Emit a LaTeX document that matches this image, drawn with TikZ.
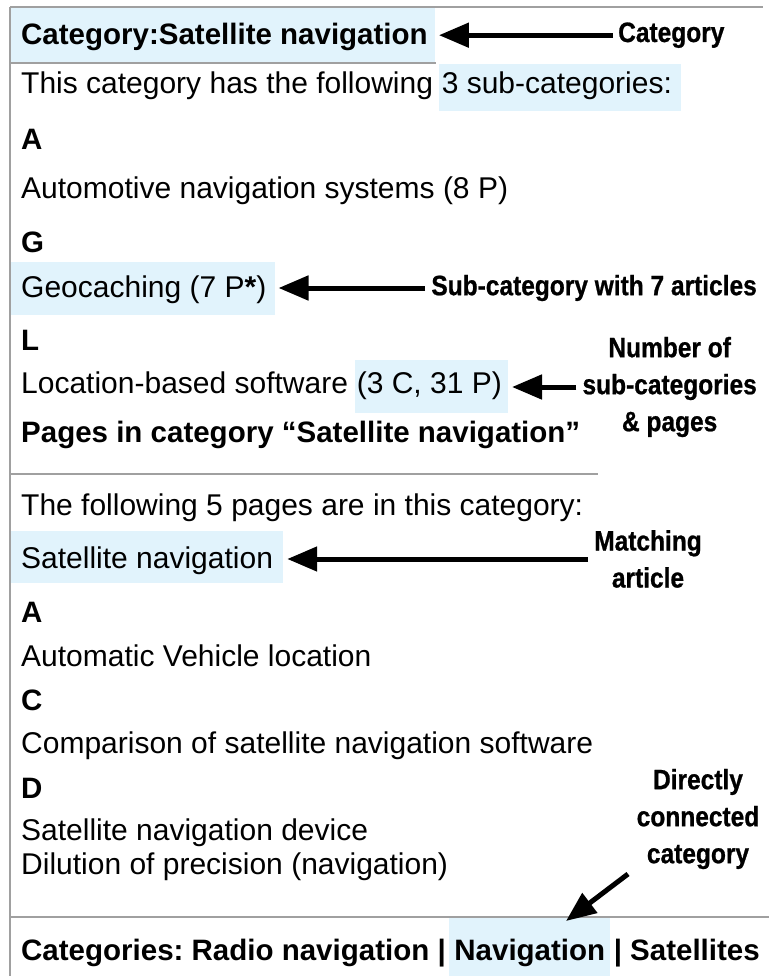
\documentclass[tikz,border=0pt]{standalone}
\usepackage{fontspec}
\setmainfont{Liberation Sans}
\newfontfamily\lblfont[FakeStretch=0.875,FakeBold=0.8]{Liberation Sans}
\usetikzlibrary{arrows.meta,backgrounds}
\definecolor{hl}{RGB}{225,243,252}
\definecolor{rulegray}{RGB}{160,160,160}
\frenchspacing
\begin{document}
\begin{tikzpicture}[x=1pt,y=-1pt,
  body/.style={font=\fontsize{30}{36}\selectfont, inner sep=0pt, anchor=base west},
  head/.style={body, font=\fontsize{29.5}{36}\selectfont\bfseries},
  lbl/.style={font=\lblfont\bfseries\fontsize{28}{37}\selectfont, inner sep=0pt, align=center},
  pointer/.style={line width=5pt, -{Triangle[length=30pt,width=24pt]}},
  rulestyle/.style={draw=rulegray, line width=2pt},
  gap/.style={xshift=8.3pt}]
\useasboundingbox (0,0) rectangle (769,976);

% page text
\node[head] (hdr)    at (21,45)  {Category:Satellite navigation};
\node[body] (intro)  at (21,94)  {This category has the following};
\node[body] (introN) at ([gap]intro.base east) {3 sub-categories:};
\node[head] (secA)   at (21,150) {A};
\node[body] (auto)   at (21,199) {Automotive navigation systems (8 P)};
\node[head] (secG)   at (21,252) {G};
\node[body] (geo)    at (21,297) {Geocaching (7 P{\bfseries *})};
\node[head] (secL)   at (21,350) {L};
\node[body] (loc)    at (21,393) {Location-based software};
\node[body] (locN)   at ([gap]loc.base east) {(3 C, 31 P)};
\node[head] (pages)  at (21,442) {Pages in category “Satellite navigation”};
\node[body] (five)   at (21,515) {The following 5 pages are in this category:};
\node[body] (match)  at (21,568) {Satellite navigation};
\node[head] (pgA)    at (21,622) {A};
\node[body] (avl)    at (21,666) {Automatic Vehicle location};
\node[head] (pgC)    at (21,710) {C};
\node[body] (cmp)    at (21,753) {Comparison of satellite navigation software};
\node[head] (pgD)    at (21,798) {D};
\node[body] (dev)    at (21,840) {Satellite navigation device};
\node[body] (dop)    at (21,874) {Dilution of precision (navigation)};
\node[head] (cats)   at (21,960) {Categories: Radio navigation |};
\node[head] (catNav) at ([xshift=8.2pt]cats.base east) {Navigation};
\node[head] (catSat) at (catNav.base east) {\hspace{8.2pt}| Satellites};

% rules
\draw[rulestyle] (10,7) -- (763,7);
\draw[rulestyle] (10,7) -- (10,976);
\draw[rulestyle] (10,63) -- (436,63);
\draw[rulestyle] (10,474) -- (598,474);
\draw[rulestyle] (10,917) -- (769,917);

% highlight edges
\coordinate (hdrEnd)   at ([xshift=7pt]hdr.east);
\coordinate (introBeg) at ([xshift=-3pt]introN.west);
\coordinate (introEnd) at ([xshift=9pt]introN.east);
\coordinate (geoEnd)   at ([xshift=8pt]geo.east);
\coordinate (locBeg)   at ([xshift=-2pt]locN.west);
\coordinate (locEnd)   at ([xshift=6pt]locN.east);
\coordinate (matchEnd) at ([xshift=10pt]match.east);
\coordinate (navBeg)   at ([xshift=-5pt]catNav.west);
\coordinate (navEnd)   at ([xshift=5pt]catNav.east);

\begin{scope}[on background layer]
  \fill[hl] (11,8) rectangle (hdrEnd |- 0,62);
  \fill[hl] (introBeg |- 0,64) rectangle (introEnd |- 0,111);
  \fill[hl] (11,262) rectangle (geoEnd |- 0,315);
  \fill[hl] (locBeg |- 0,360) rectangle (locEnd |- 0,413);
  \fill[hl] (11,531) rectangle (matchEnd |- 0,583);
  \fill[hl] (navBeg |- 0,918) rectangle (navEnd |- 0,976);
\end{scope}

% annotations
\node[lbl, anchor=base west] (lCat) at (618,42) {Category};
\node[lbl, anchor=east] (lGeo) at (757,288) {Sub-category with 7 articles};
\node[lbl, anchor=east] (lNum) at (757,387) {Number of\\sub-categories\\\& pages};
\node[lbl] (lMatch) at (648,559) {Matching\\article};
\node[lbl] (lDir) at (698,819) {Directly\\connected\\category};

\coordinate (catTip)   at ([xshift=4pt]hdrEnd);
\coordinate (geoTip)   at ([xshift=4pt]geoEnd);
\coordinate (locTip)   at ([xshift=4pt]locEnd);
\coordinate (matchTip) at ([xshift=4pt]matchEnd);
\coordinate (dirTail)  at (628,874);
\coordinate (navTip)   at (566,921);

\draw[pointer] ([xshift=-5pt]lCat.west) -- (lCat.west -| catTip);
\draw[pointer] ([xshift=-6pt]lGeo.west) -- (lGeo.west -| geoTip);
\draw[pointer] ([xshift=-6pt]lNum.west) -- (lNum.west -| locTip);
\draw[pointer] ([xshift=-6pt]lMatch.west) -- (lMatch.west -| matchTip);
\draw[pointer] (dirTail) -- (navTip);
\end{tikzpicture}
\end{document}
